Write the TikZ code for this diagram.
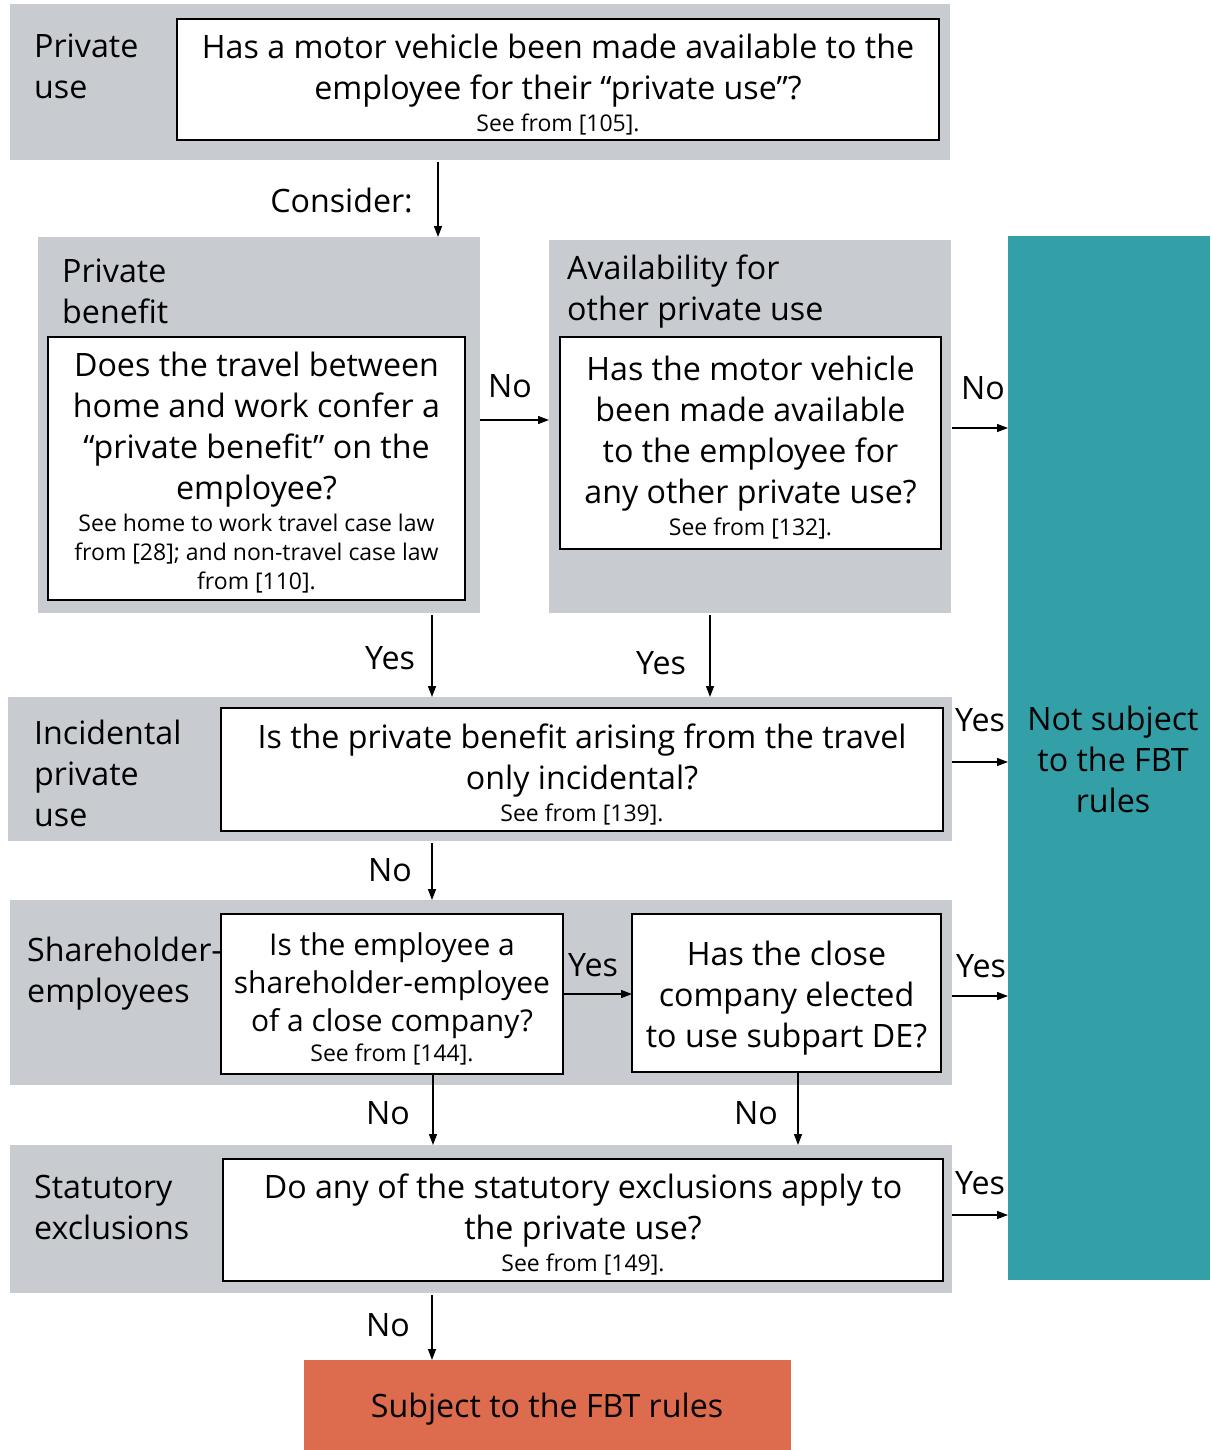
\documentclass[tikz,border=0pt]{standalone}
\usepackage{fontspec}
\setmainfont{Open Sans}
\usetikzlibrary{arrows.meta}
\definecolor{bandgray}{RGB}{200,203,208}
\definecolor{fbtteal}{RGB}{51,160,168}
\definecolor{fbtorange}{RGB}{221,107,77}
\newcommand\qfont{\fontsize{32.2}{41}\selectfont}
\newcommand\reffont{\fontsize{23}{29}\selectfont}
% extra room above the first line of a question box
\newcommand\topstrut[1][34pt]{\rule{0pt}{#1}}
\begin{document}
\begin{tikzpicture}[x=1pt,y=-1pt,
  band/.style={fill=bandgray, draw=none, inner sep=0pt, outer sep=0pt, anchor=north west},
  qbox/.style={fill=white, draw=black, line width=2pt, inner sep=0pt, outer sep=0pt,
    anchor=north west, align=center, font=\qfont},
  bandlabel/.style={anchor=north west, inner sep=0pt, align=left, font=\qfont},
  lbl/.style={inner sep=0pt, font=\qfont},
  arr/.style={line width=1.3pt, -{Triangle[length=11pt,width=8pt]}},
  endbox/.style={draw=none, inner sep=0pt, outer sep=0pt, anchor=north west, align=center, font=\qfont}]
\useasboundingbox (0,0) rectangle (1210,1450);

% ---- private use ----
\node[band, minimum width=940, minimum height=156] (b1) at (10,4) {};
\node[qbox, minimum width=762, minimum height=121] (q1) at (177,19)
  {\topstrut Has a motor vehicle been made available to the\\ employee for their “private use”?\\[-9pt]
   {\reffont See from [105].}};
\node[bandlabel] (l1) at (34,34) {Private\\use};

% ---- private benefit / other private use ----
\node[band, minimum width=442, minimum height=376] (b2) at (38,237) {};
\node[qbox, minimum width=417, minimum height=263] (q2) at (48,337)
  {\topstrut[32pt]Does the travel between\\ home and work confer a\\ “private benefit” on the\\ employee?\\[-9pt]
   {\reffont See home to work travel case law}\\[-12pt]
   {\reffont from [28]; and non-travel case law}\\[-12pt]
   {\reffont from [110].}};
\node[bandlabel] (l2) at (62,259) {Private\\benefit};

\node[band, minimum width=402, minimum height=373] (b3) at (549,240) {};
\node[qbox, minimum width=381, minimum height=212] (q3) at (560,337)
  {\topstrut Has the motor vehicle\\ been made available\\ to the employee for\\ any other private use?\\[-9pt]
   {\reffont See from [132].}};
\node[bandlabel] (l3) at (567,255) {Availability for\\other private use};

% ---- outcome: not subject ----
\node[endbox, fill=fbtteal, minimum width=202, minimum height=1044] (ns) at (1008,236) {};
\node[lbl, align=center] (nst) at (1113,759) {Not subject\\to the FBT\\rules};

% ---- incidental private use ----
\node[band, minimum width=944, minimum height=144] (b4) at (8,697) {};
\node[qbox, minimum width=722, minimum height=123] (q4) at (221,708)
  {\topstrut Is the private benefit arising from the travel\\ only incidental?\\[-9pt]
   {\reffont See from [139].}};
\node[bandlabel] (l4) at (34,720) {Incidental\\private\\use};

% ---- shareholder-employees ----
\node[band, minimum width=942, minimum height=185] (b5) at (10,900) {};
\node[qbox, minimum width=342, minimum height=160, font=\fontsize{30}{38}\selectfont] (q5) at (221,914)
  {\topstrut[32pt]Is the employee a\\ shareholder-employee\\ of a close company?\\[-8pt]
   {\reffont See from [144].}};
\node[qbox, minimum width=309, minimum height=158] (q6) at (632,914)
  {\topstrut[35pt]Has the close\\ company elected\\ to use subpart DE?};
\node[bandlabel] (l5) at (27,937) {Shareholder-\\employees};

% ---- statutory exclusions ----
\node[band, minimum width=942, minimum height=148] (b6) at (10,1145) {};
\node[qbox, minimum width=720, minimum height=122] (q7) at (223,1159)
  {\topstrut Do any of the statutory exclusions apply to\\ the private use?\\[-9pt]
   {\reffont See from [149].}};
\node[bandlabel] (l6) at (34,1175) {Statutory\\exclusions};

% ---- outcome: subject ----
\node[endbox, fill=fbtorange, minimum width=487, minimum height=90] (sb) at (304,1360) {};
\node[lbl] (sbt) at (547,1409) {Subject to the FBT rules};

% ---- connector guides ----
\coordinate (x438) at (438,0);
\coordinate (x432) at (432,0);
\coordinate (x433) at (433,0);
\coordinate (x710) at (710,0);
\coordinate (x798) at (798,0);
\coordinate (y420) at (0,420);
\coordinate (y428) at (0,428);
\coordinate (y762) at (0,762);
\coordinate (y994) at (0,994);
\coordinate (y996) at (0,996);
\coordinate (y1215) at (0,1215);

% ---- connectors ----
\draw[arr] (b1.south -| x438) ++(0,2) -- (b2.north -| x438);
\node[lbl, anchor=east] (cons) at (413,200) {Consider:};

\draw[arr] (b2.east |- y420) -- (b3.west |- y420);
\node[lbl] (n1) at (510,386) {No};
\draw[arr] (b3.east |- y428) ++(1,0) -- (ns.west |- y428);
\node[lbl] (n2) at (983,388) {No};

\draw[arr] (b2.south -| x432) ++(0,2) -- (b4.north -| x432);
\node[lbl] (y1) at (390,658) {Yes};
\draw[arr] (b3.south -| x710) ++(0,2) -- (b4.north -| x710);
\node[lbl] (y2) at (661,663) {Yes};

\draw[arr] (b4.east |- y762) -- (ns.west |- y762);
\node[lbl] (y3) at (980,720) {Yes};
\draw[arr] (b4.south -| x432) ++(0,2) -- (b5.north -| x432);
\node[lbl] (n3) at (390,870) {No};

\draw[arr] (q5.east |- y994) -- (q6.west |- y994);
\node[lbl] (y4) at (593,965) {Yes};
\draw[arr] (b5.east |- y996) -- (ns.west |- y996);
\node[lbl] (y5) at (981,966) {Yes};
\draw[arr] (q5.south -| x433) -- (b6.north -| x433);
\node[lbl] (n4) at (388,1113) {No};
\draw[arr] (q6.south -| x798) -- (b6.north -| x798);
\node[lbl] (n5) at (756,1113) {No};

\draw[arr] (b6.east |- y1215) -- (ns.west |- y1215);
\node[lbl] (y6) at (980,1183) {Yes};
\draw[arr] (b6.south -| x432) ++(0,2) -- (sb.north -| x432);
\node[lbl] (n6) at (388,1325) {No};
\end{tikzpicture}
\end{document}
